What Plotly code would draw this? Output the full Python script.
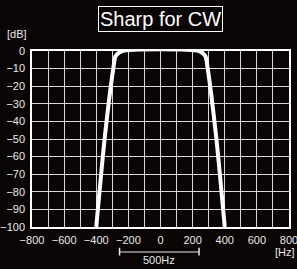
import plotly.graph_objects as go

# Filter response
freq_hz = [-400, -348, -294, -280, -240, 240, 280, 294, 348, 400]
atten_db = [-100, -50, -10, -3, 0, 0, -3, -10, -50, -100]

x_ticks = [-800, -600, -400, -200, 0, 200, 400, 600, 800]
y_ticks = [0, -10, -20, -30, -40, -50, -60, -70, -80, -90, -100]
bracket_hz = [-255, 240]
bracket_label = "500Hz"
title_text = "Sharp for CW"

BG = "#0a0505"
FG = "#e8e8e8"
FONT = "Liberation Sans, Arial, sans-serif"

fig = go.Figure()
fig.add_trace(go.Scatter(
    x=freq_hz, y=atten_db, mode="lines",
    line=dict(color="white", width=4, shape="spline", smoothing=0.6),
    hoverinfo="skip", showlegend=False,
))

# bracket under the axis
fig.add_shape(type="line", xref="x", yref="paper",
              x0=bracket_hz[0], x1=bracket_hz[1], y0=-0.142, y1=-0.142,
              line=dict(color=FG, width=1))
for bx in bracket_hz:
    fig.add_shape(type="line", xref="x", yref="paper",
                  x0=bx, x1=bx, y0=-0.118, y1=-0.162,
                  line=dict(color=FG, width=1.5))
fig.add_annotation(x=sum(bracket_hz) / 2, xref="x", y=-0.188, yref="paper",
                   text=bracket_label, showarrow=False, yanchor="middle",
                   font=dict(color=FG, size=11, family=FONT))

# title box
fig.add_annotation(x=0, xref="x", y=1.183, yref="paper",
                   text=title_text, showarrow=False, yanchor="middle",
                   font=dict(color="white", size=20, family=FONT),
                   bordercolor="white", borderwidth=1, borderpad=1)

# unit labels
fig.add_annotation(x=-0.06, xref="paper", y=1.095, yref="paper",
                   text="[dB]", showarrow=False, yanchor="middle", xanchor="center",
                   font=dict(color=FG, size=11, family=FONT))
fig.add_annotation(x=0.985, xref="paper", y=-0.142, yref="paper",
                   text="[Hz]", showarrow=False, yanchor="middle", xanchor="center",
                   font=dict(color=FG, size=11, family=FONT))

fig.update_layout(
    width=297, height=269,
    margin=dict(l=32, r=8, t=51, b=42),
    paper_bgcolor=BG, plot_bgcolor=BG,
    font=dict(color=FG, size=11, family=FONT),
    xaxis=dict(range=[-800, 800], tickvals=x_ticks, showgrid=True,
               gridcolor="#d8d8d8", gridwidth=1, zeroline=False,
               showline=True, linecolor="white", linewidth=1.5, mirror=True,
               ticks="", ticklabelstandoff=2, automargin=False,
               ticklabeloverflow="allow",
               minor=dict(dtick=100, tick0=0, showgrid=True, gridcolor="#d8d8d8", gridwidth=1)),
    yaxis=dict(range=[-100, 0], tickvals=y_ticks, showgrid=True,
               gridcolor="#d8d8d8", gridwidth=1, zeroline=False,
               showline=True, linecolor="white", linewidth=1.5, mirror=True,
               ticks="", ticklabelstandoff=3, automargin=False,
               ticklabeloverflow="allow"),
)

fig.write_html("out.html", config={"displayModeBar": False},
               post_script="document.body.style.margin='0';document.body.style.background='%s';" % BG)
